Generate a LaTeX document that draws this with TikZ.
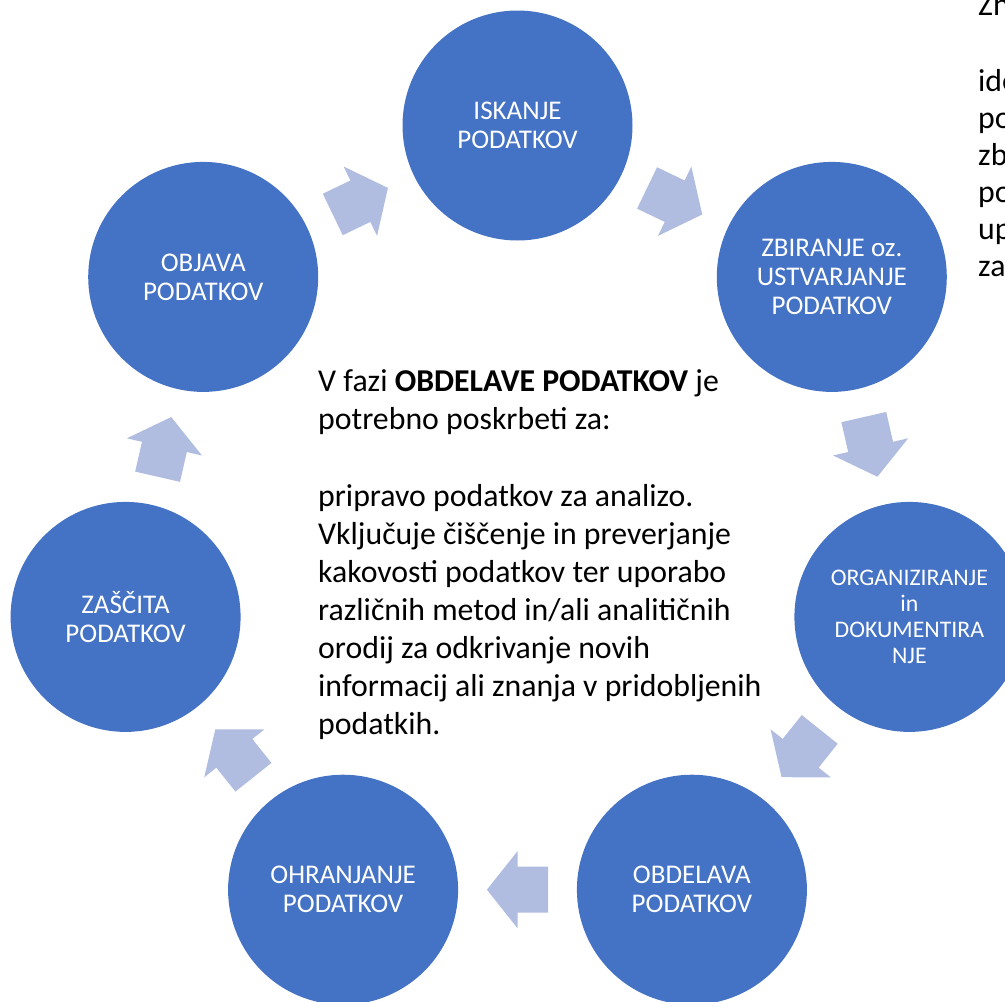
\documentclass[tikz,border=0pt]{standalone}
\usepackage{fontspec}
\setmainfont{Carlito}
\usetikzlibrary{calc}
\definecolor{circblue}{HTML}{4472C4}
\definecolor{arrowblue}{HTML}{B0BDE0}
\tikzset{
  stage/.style={circle, fill=circblue, draw=none, minimum size=230pt, inner sep=0pt,
    text=white, align=center, font=\fontsize{27}{29}\selectfont},
  pics/blockarrow/.style={code={
    \fill[arrowblue] (-30.6,-23) -- (0,-23) -- (0,-38.5) -- (30.6,0) -- (0,38.5) -- (0,23) -- (-30.6,23) -- cycle;}},
  body/.style={font=\fontsize{31.8}{38.1}\selectfont, align=left, inner sep=0pt, text=black}
}
\begin{document}
\begin{tikzpicture}[x=1pt,y=-1pt]
\useasboundingbox (0,0) rectangle (1005,1002);
\node[stage] (isk) at (517.5,125.5) {ISKANJE\\PODATKOV};
\node[stage] (zbi) at (831.8,276.9) {ZBIRANJE oz.\\USTVARJANJE\\PODATKOV};
\node[stage, font=\fontsize{23.8}{26}\selectfont] (org) at (909.4,616.9) {ORGANIZIRANJE\\in\\DOKUMENTIRA\\NJE};
\node[stage] (obd) at (691.9,889.7) {OBDELAVA\\PODATKOV};
\node[stage] (ohr) at (343.1,889.7) {OHRANJANJE\\PODATKOV};
\node[stage] (zas) at (125.6,616.9) {ZAŠČITA\\PODATKOV};
\node[stage] (obj) at (203.2,276.9) {OBJAVA\\PODATKOV};
\pic[rotate=-25.71] at ($(isk)!0.5!(zbi)$) {blockarrow};
\pic[rotate=-77.14] at ($(zbi)!0.5!(org)$) {blockarrow};
\pic[rotate=-128.57] at ($(org)!0.5!(obd)$) {blockarrow};
\pic[rotate=180] at ($(obd)!0.5!(ohr)$) {blockarrow};
\pic[rotate=128.57] at ($(ohr)!0.5!(zas)$) {blockarrow};
\pic[rotate=77.14] at ($(zas)!0.5!(obj)$) {blockarrow};
\pic[rotate=25.71] at ($(obj)!0.5!(isk)$) {blockarrow};
\node[body, anchor=base west] (txt) at (318,734.6) {V fazi \textbf{OBDELAVE PODATKOV} je\\potrebno poskrbeti za:\\[38.1pt]pripravo podatkov za analizo.\\Vključuje čiščenje in preverjanje\\kakovosti podatkov ter uporabo\\različnih metod in/ali analitičnih\\orodij za odkrivanje novih\\informacij ali znanja v pridobljenih\\podatkih.};
\node[body, anchor=base west] (rt1) at (978,15) {Zh};
\node[body, anchor=base west, font=\fontsize{31.8}{37}\selectfont] (rt2) at (978,276.7) {ide\\po\\zb\\po\\up\\za};
\end{tikzpicture}
\end{document}
